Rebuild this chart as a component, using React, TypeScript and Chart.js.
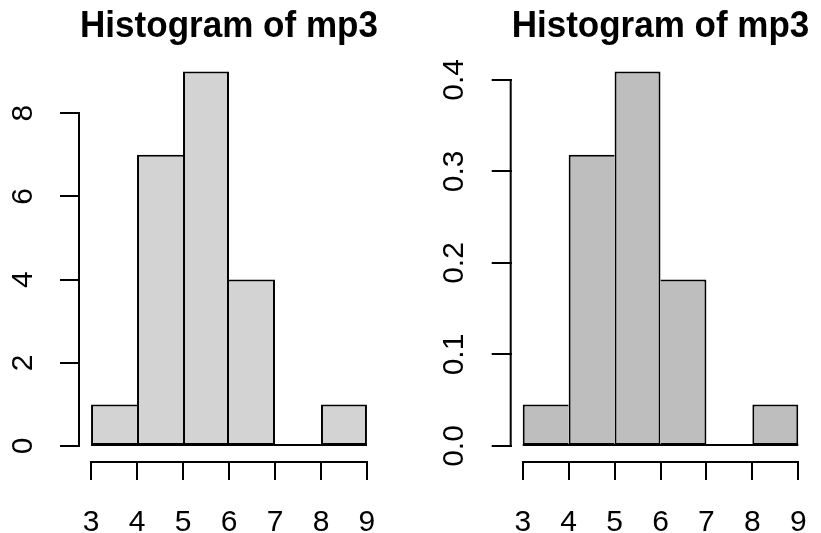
import { useEffect, useRef } from "react";
import { Chart, registerables } from "chart.js";

Chart.register(...registerables);

const binEdges = [3, 4, 5, 6, 7, 8, 9];
const counts = [1, 7, 9, 4, 0, 1];
const densities = [0.04545, 0.31818, 0.40909, 0.18182, 0, 0.04545];
const countTicks = [0, 2, 4, 6, 8];
const densityTicks = [0, 0.1, 0.2, 0.3, 0.4];
const xTicks = [3, 4, 5, 6, 7, 8, 9];
const titleText = "Histogram of mp3";

const FONT = "'Liberation Sans', Arial, Helvetica, sans-serif";
const W = 821;
const H = 533;

const rAxesPlugin = {
  id: "rAxes",
  afterDatasetsDraw(chart: any) {
    const { ctx, chartArea } = chart;
    const x = chart.scales.x;
    const y = chart.scales.y;
    ctx.save();
    ctx.strokeStyle = "#000";
    ctx.lineWidth = 2;
    ctx.lineCap = "butt";
    // zero line of the histogram bars
    const y0 = y.getPixelForValue(0);
    ctx.beginPath();
    ctx.moveTo(x.getPixelForValue(binEdges[0]), y0 - 1);
    ctx.lineTo(x.getPixelForValue(binEdges[binEdges.length - 1]), y0 - 1);
    ctx.stroke();
    // y axis line between first and last tick
    const yt = y.ticks;
    const pyA = Math.round(y.getPixelForValue(yt[0].value));
    const pyB = Math.round(y.getPixelForValue(yt[yt.length - 1].value));
    ctx.beginPath();
    ctx.moveTo(chartArea.left - 1, pyA + 1);
    ctx.lineTo(chartArea.left - 1, pyB - 1);
    ctx.stroke();
    // x axis line between first and last tick
    const xt = x.ticks;
    const pxA = Math.round(x.getPixelForValue(xt[0].value));
    const pxB = Math.round(x.getPixelForValue(xt[xt.length - 1].value));
    ctx.beginPath();
    ctx.moveTo(pxA - 1, chartArea.bottom + 1);
    ctx.lineTo(pxB + 1, chartArea.bottom + 1);
    ctx.stroke();
    ctx.restore();
  },
};

function makeHist(
  canvas: HTMLCanvasElement,
  values: number[],
  color: string,
  yTicks: number[],
  fmt: (v: number) => string,
  padLeft: number,
  padRight: number,
  yLabelPad: number
) {
  const mids = values.map((_, i) => (binEdges[i] + binEdges[i + 1]) / 2);
  const ymax = Math.max(...values);
  const xr = binEdges[binEdges.length - 1] - binEdges[0];
  return new Chart(canvas, {
    type: "bar",
    data: {
      datasets: [
        {
          data: mids.map((m, i) => ({ x: m, y: values[i] })),
          backgroundColor: color,
          borderColor: "#000",
          borderSkipped: false,
          inflateAmount: 0,
          barPercentage: 1,
          categoryPercentage: 1,
          borderWidth: (c: any) => {
            const i = c.dataIndex;
            const v = values[i];
            const l = i > 0 ? values[i - 1] : -1;
            const r = i < values.length - 1 ? values[i + 1] : -1;
            return { top: 2, bottom: 2, left: l >= v ? 0 : 2, right: r > v ? 0 : 2 };
          },
        } as any,
      ],
    },
    options: {
      responsive: false,
      animation: false,
      devicePixelRatio: 1,
      events: [],
      layout: { padding: { left: padLeft, right: padRight, top: 0, bottom: 0 } },
      plugins: {
        legend: { display: false },
        tooltip: { enabled: false },
        title: {
          display: true,
          text: titleText,
          fullSize: false,
          color: "#000",
          font: { family: FONT, size: 37, weight: "bold", lineHeight: 1.2 },
          padding: { top: 4.5, bottom: 7.7 },
        },
      },
      scales: {
        x: {
          type: "linear",
          offset: false,
          min: binEdges[0] - 0.04 * xr,
          max: binEdges[binEdges.length - 1] + 0.04 * xr,
          afterBuildTicks: (s: any) => {
            s.ticks = xTicks.map((v) => ({ value: v }));
          },
          afterFit: (s: any) => {
            s.height = 72;
            s.paddingLeft = 0;
            s.paddingRight = 0;
          },
          border: { display: false },
          grid: {
            display: true,
            offset: false,
            drawOnChartArea: false,
            drawTicks: true,
            tickLength: 19,
            color: "#000",
            lineWidth: 2,
          },
          ticks: {
            color: "#000",
            font: { family: FONT, size: 30 },
            padding: 25,
            maxRotation: 0,
            minRotation: 0,
            autoSkip: false,
            callback: (v: any) => String(v),
          },
        },
        y: {
          type: "linear",
          min: -0.04 * ymax,
          max: 1.04 * ymax,
          afterBuildTicks: (s: any) => {
            s.ticks = yTicks.map((v) => ({ value: v }));
          },
          afterFit: (s: any) => {
            s.width = 80;
            s.paddingTop = 0;
            s.paddingBottom = 0;
          },
          border: { display: false },
          grid: {
            display: true,
            drawOnChartArea: false,
            drawTicks: true,
            tickLength: 20,
            color: "#000",
            lineWidth: 2,
          },
          ticks: {
            color: "#000",
            font: { family: FONT, size: 30 },
            padding: yLabelPad,
            minRotation: 90,
            maxRotation: 90,
            crossAlign: "center",
            autoSkip: false,
            callback: (v: any) => fmt(Number(v)),
          },
        },
      },
    } as any,
    plugins: [rAxesPlugin],
  });
}

export default function App() {
  const leftRef = useRef<HTMLCanvasElement>(null);
  const rightRef = useRef<HTMLCanvasElement>(null);

  useEffect(() => {
    const c1 = makeHist(leftRef.current!, counts, "#D3D3D3", countTicks, (v) => String(v), 0, W - 378, 28);
    const c2 = makeHist(rightRef.current!, densities, "#BEBEBE", densityTicks, (v) => v.toFixed(1), 431.7, W - 809.3, 16);
    return () => {
      c1.destroy();
      c2.destroy();
    };
  }, []);

  const cs: any = { position: "absolute", left: 0, top: 0, width: W, height: H };
  return (
    <div style={{ position: "fixed", left: 0, top: 0, width: W, height: H, background: "#fff" }}>
      <canvas ref={leftRef} width={W} height={H} style={cs} />
      <canvas ref={rightRef} width={W} height={H} style={cs} />
    </div>
  );
}
